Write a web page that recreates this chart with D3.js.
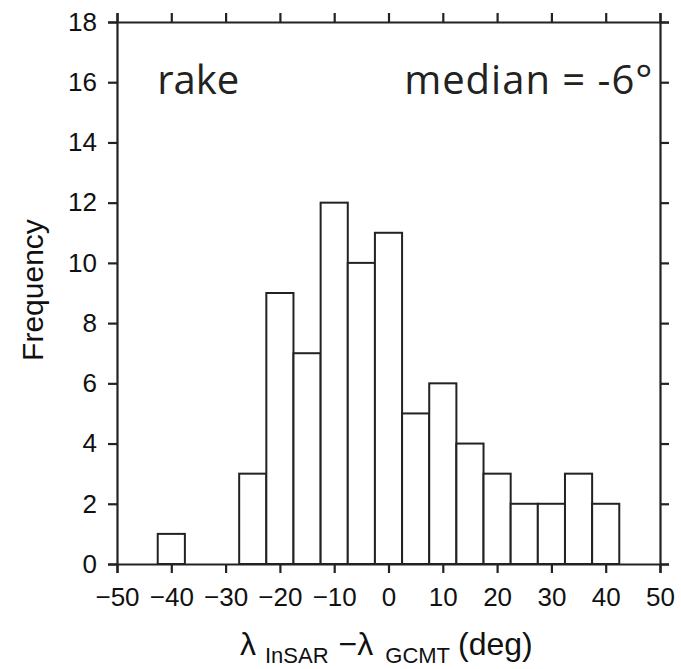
<!DOCTYPE html>
<html>
<head>
<meta charset="utf-8">
<script src="https://cdn.jsdelivr.net/npm/d3@7"></script>
<style>
  body { margin: 0; background: #fff; }
</style>
</head>
<body>
<div id="chart"></div>
<script>
// bin centres (deg) and counts
const binCenters = [-40, -25, -20, -15, -10, -5, 0, 5, 10, 15, 20, 25, 30, 35, 40]
const counts = [1, 3, 9, 7, 12, 10, 11, 5, 6, 4, 3, 2, 2, 3, 2]
const binWidth = 5
const xTicks = [-50, -40, -30, -20, -10, 0, 10, 20, 30, 40, 50]
const yTicks = [0, 2, 4, 6, 8, 10, 12, 14, 16, 18]

const W = 681, H = 669
const margin = { top: 22, left: 117, right: 21, bottom: 105 }
const width = W - margin.left - margin.right
const height = H - margin.top - margin.bottom

const svg = d3.select('#chart').append('svg')
  .attr('width', W).attr('height', H)
const g = svg.append('g')
  .attr('transform', 'translate(' + margin.left + ',' + margin.top + ')')

const x = d3.scaleLinear().domain([-50, 50]).range([0, width])
const y = d3.scaleLinear().domain([0, 18]).range([height, 0])

const bins = binCenters.map((c, i) => ({ c: c, n: counts[i] }))

g.selectAll('rect.bar')
  .data(bins)
  .enter()
  .append('rect')
  .attr('class', 'bar')
  .attr('x', d => x(d.c - binWidth / 2))
  .attr('y', d => y(d.n))
  .attr('width', d => x(d.c + binWidth / 2) - x(d.c - binWidth / 2))
  .attr('height', d => y(0) - y(d.n))
  .attr('fill', '#fff')
  .attr('stroke', '#222')
  .attr('stroke-width', 2)

const tickFont = '"Liberation Sans", Arial, sans-serif'

const axB = g.append('g').attr('transform', 'translate(0,' + height + ')')
  .call(d3.axisBottom(x).tickValues(xTicks).tickSize(9).tickPadding(15)
    .tickFormat(d => d < 0 ? '\u2212' + Math.abs(d) : d))
const axT = g.append('g')
  .call(d3.axisTop(x).tickValues(xTicks).tickSize(9).tickFormat(''))
const axL = g.append('g')
  .call(d3.axisLeft(y).tickValues(yTicks).tickSize(9).tickPadding(11))
const axR = g.append('g').attr('transform', 'translate(' + width + ',0)')
  .call(d3.axisRight(y).tickValues(yTicks).tickSize(9).tickFormat(''))

;[axB, axT, axL, axR].forEach(a => {
  a.select('.domain').attr('stroke', '#222').attr('stroke-width', 2.2)
  a.selectAll('.tick line').attr('stroke', '#222').attr('stroke-width', 2.2)
  a.selectAll('.tick text').attr('fill', '#111')
    .style('font-family', tickFont).style('font-size', '26px')
})

// annotations
g.append('text')
  .attr('x', x(-42.6))
  .attr('y', y(15.6))
  .style('font-family', '"Open Sans", "Noto Sans", sans-serif')
  .style('font-size', '40px')
  .attr('fill', '#222')
  .text('rake')

g.append('text')
  .attr('x', x(48.8))
  .attr('y', y(15.6))
  .attr('text-anchor', 'end')
  .style('font-family', '"Open Sans", "Noto Sans", sans-serif')
  .style('font-size', '40px')
  .style('letter-spacing', '1px')
  .attr('fill', '#222')
  .text('median = -6\u00b0')

// axis titles
svg.append('text')
  .attr('transform', 'translate(43,' + 290 + ') rotate(-90)')
  .attr('text-anchor', 'middle')
  .style('font-family', tickFont)
  .style('font-size', '30px')
  .attr('fill', '#111')
  .text('Frequency')

const xl = svg.append('text')
  .attr('x', 240)
  .attr('y', 655)
  .style('font-family', tickFont)
  .style('font-size', '32px')
  .attr('fill', '#111')
xl.append('tspan').text('\u03bb')
xl.append('tspan').attr('dx', 9).attr('dy', 8).style('font-size', '22px').text('InSAR')
xl.append('tspan').attr('dx', 10).attr('dy', -8).text('\u2212\u03bb')
xl.append('tspan').attr('dx', 12).attr('dy', 8).style('font-size', '22px').text('GCMT')
xl.append('tspan').attr('dx', 8).attr('dy', -8).text('(deg)')
</script>
</body>
</html>
